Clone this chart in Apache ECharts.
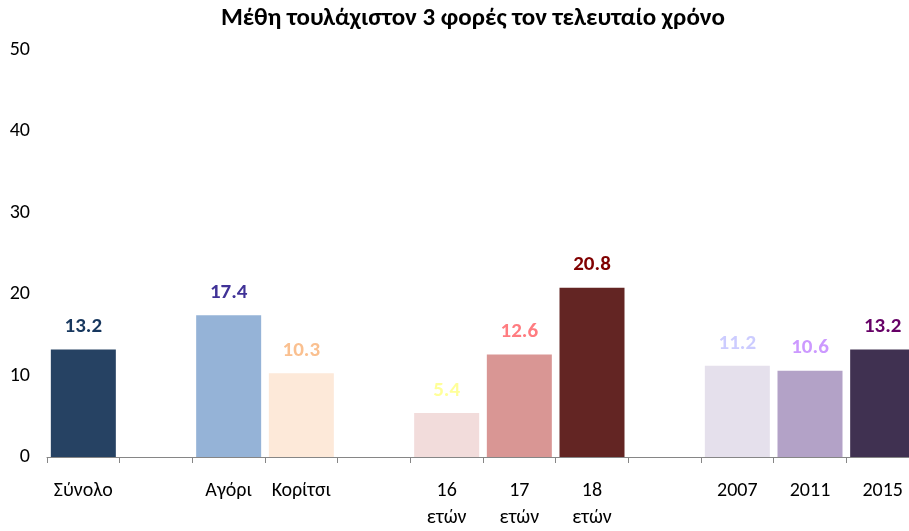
<!DOCTYPE html>
<html>
<head>
<meta charset="utf-8">
<script src="https://cdn.jsdelivr.net/npm/echarts@6/dist/echarts.min.js"></script>
<style>html,body{margin:0;padding:0;background:#fff;overflow:hidden;width:909px;height:531px}#c{width:920px;height:531px}</style>
</head>
<body>
<div id="c"></div>
<script>
var titleText = 'Μέθη τουλάχιστον 3 φορές τον τελευταίο χρόνο';
var categories = ['Σύνολο', '', 'Αγόρι', 'Κορίτσι', '', '16\nετών', '17\nετών', '18\nετών', '', '2007', '2011', '2015'];
var values = [13.2, null, 17.4, 10.3, null, 5.4, 12.6, 20.8, null, 11.2, 10.6, 13.2];
var barColors = ['#264263', null, '#95b3d7', '#fde9d9', null, '#f2dcdb', '#d99694', '#632523', null, '#e5e0ec', '#b3a2c7', '#403151'];
var labelColors = ['#17375e', null, '#403297', '#fac090', null, '#ffff99', '#ff7c80', '#800000', null, '#ccccff', '#cc99ff', '#660066'];
var yTicks = {min: 0, max: 50, interval: 10};

var FONT = "Carlito, 'Liberation Sans', 'Noto Sans', sans-serif";
var chart = echarts.init(document.getElementById('c'));
var data = values.map(function (v, i) {
  if (v === null) return '-';
  return {
    value: v,
    itemStyle: {color: barColors[i]},
    label: {color: labelColors[i]}
  };
});
chart.setOption({
  animation: false,
  backgroundColor: '#fff',
  title: {
    text: titleText,
    left: 468,
    top: 1,
    textAlign: 'center',
    textStyle: {fontFamily: FONT, fontWeight: 'bold', fontSize: 25, color: '#000'}
  },
  grid: {left: 47, right: 1, top: 50, bottom: 74, containLabel: false},
  xAxis: {
    type: 'category',
    data: categories,
    axisLine: {show: true, lineStyle: {color: '#868686', width: 1}},
    axisTick: {show: true, length: 6, alignWithLabel: false, lineStyle: {color: '#868686'}},
    axisLabel: {
      interval: 0, margin: 20, fontFamily: FONT, fontSize: 20, lineHeight: 27, color: '#000'
    }
  },
  yAxis: {
    type: 'value',
    min: yTicks.min, max: yTicks.max, interval: yTicks.interval,
    splitLine: {show: false},
    axisLine: {show: false},
    axisTick: {show: false},
    axisLabel: {margin: 17, fontFamily: FONT, fontSize: 20, color: '#000'}
  },
  series: [{
    type: 'bar',
    data: data,
    barWidth: 65,
    label: {
      show: true,
      position: 'top',
      distance: 12,
      fontFamily: FONT,
      fontWeight: 'bold',
      fontSize: 21,
      formatter: function (p) { return p.value.toFixed(1); }
    }
  }]
});
</script>
</body>
</html>
